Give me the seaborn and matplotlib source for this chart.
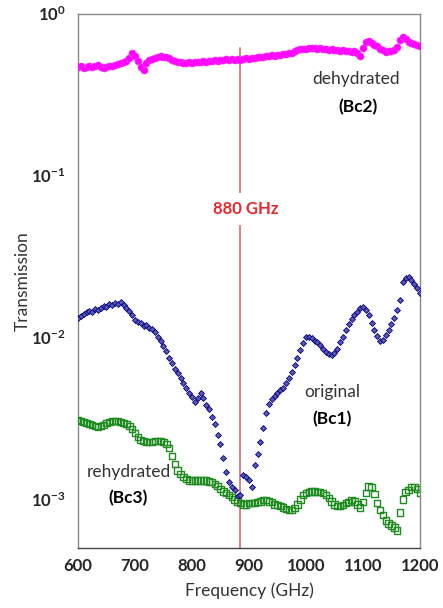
import numpy as np
import pandas as pd
import matplotlib
matplotlib.use('Agg')
import matplotlib.pyplot as plt
import seaborn as sns

# frequency sampling grid (GHz), 5 GHz steps
freq = np.arange(600, 1201, 5)

# transmission, one value per grid point
dehydrated = [
    0.467, 0.472, 0.462, 0.470, 0.474, 0.466, 0.472, 0.478, 0.465, 0.462,
    0.468, 0.471, 0.475, 0.482, 0.486, 0.493, 0.500, 0.512, 0.534, 0.574,
    0.545, 0.510, 0.468, 0.448, 0.492, 0.515, 0.521, 0.528, 0.537, 0.545,
    0.540, 0.536, 0.531, 0.520, 0.511, 0.505, 0.504, 0.498, 0.496, 0.500,
    0.494, 0.499, 0.503, 0.500, 0.507, 0.504, 0.510, 0.506, 0.514, 0.511,
    0.517, 0.514, 0.521, 0.518, 0.525, 0.520, 0.527, 0.519, 0.522, 0.528,
    0.526, 0.533, 0.530, 0.538, 0.542, 0.540, 0.547, 0.544, 0.551, 0.548,
    0.556, 0.552, 0.559, 0.563, 0.567, 0.574, 0.583, 0.594, 0.600, 0.607,
    0.604, 0.612, 0.616, 0.609, 0.606, 0.611, 0.602, 0.600, 0.597, 0.601,
    0.593, 0.595, 0.589, 0.592, 0.586, 0.588, 0.582, 0.585, 0.574, 0.548,
    0.612, 0.668, 0.675, 0.660, 0.643, 0.630, 0.606, 0.594, 0.582, 0.588,
    0.590, 0.592, 0.625, 0.690, 0.712, 0.694, 0.672, 0.660, 0.650, 0.641,
    0.626,
]

original = [
    0.0132, 0.0136, 0.0139, 0.0143, 0.0146, 0.0144, 0.0150, 0.0148, 0.0152, 0.0156,
    0.0154, 0.0160, 0.0158, 0.0163, 0.0161, 0.0165, 0.0159, 0.0152, 0.0146, 0.0138,
    0.0128, 0.0124, 0.0123, 0.0118, 0.0119, 0.0115, 0.0113, 0.0108, 0.0101, 0.0095,
    0.0089, 0.0082, 0.0075, 0.0069, 0.0064, 0.0060, 0.0056, 0.0052, 0.0049, 0.0045,
    0.0043, 0.0040, 0.0042, 0.0045, 0.0042, 0.0038, 0.0036, 0.0032, 0.0029, 0.0025,
    0.0022, 0.0018, 0.00147, 0.00128, 0.00119, 0.00114, 0.00105, 0.00106, 0.00141, 0.00138,
    0.00131, 0.00119, 0.00162, 0.00190, 0.00225, 0.00275, 0.00340, 0.00385, 0.00415, 0.00434,
    0.00455, 0.00473, 0.00490, 0.00522, 0.00560, 0.00611, 0.00675, 0.00746, 0.00836, 0.00923,
    0.01006, 0.01010, 0.00991, 0.00950, 0.00937, 0.00897, 0.00848, 0.00812, 0.00789, 0.00778,
    0.00801, 0.00848, 0.00937, 0.01006, 0.01111, 0.01210, 0.01299, 0.01376, 0.01436, 0.01520,
    0.01542, 0.01477, 0.01376, 0.01227, 0.01111, 0.01020, 0.00950, 0.00963, 0.01034, 0.01111,
    0.01210, 0.01318, 0.01477, 0.01703, 0.02202, 0.02330, 0.02363, 0.02265, 0.02139, 0.02020,
    0.01882,
]

rehydrated = [
    0.00308, 0.00304, 0.00300, 0.00296, 0.00291, 0.00287, 0.00283, 0.00279, 0.00283, 0.00287,
    0.00296, 0.00300, 0.00304, 0.00304, 0.00304, 0.00300, 0.00296, 0.00291, 0.00283, 0.00271,
    0.00256, 0.00242, 0.00232, 0.00229, 0.00225, 0.00225, 0.00225, 0.00229, 0.00229, 0.00229,
    0.00225, 0.00219, 0.00207, 0.00185, 0.00165, 0.00151, 0.00143, 0.00137, 0.00133, 0.00131,
    0.00131, 0.00131, 0.00131, 0.00131, 0.00131, 0.00131, 0.00129, 0.00128, 0.00124, 0.00121,
    0.00116, 0.00112, 0.00109, 0.00106, 0.00103, 0.00100, 0.00097, 0.00095, 0.00093, 0.00093,
    0.00095, 0.00095, 0.00095, 0.00096, 0.00097, 0.00099, 0.00099, 0.00097, 0.00096, 0.00093,
    0.00092, 0.00091, 0.00089, 0.00087, 0.00086, 0.00086, 0.00088, 0.00093, 0.00100, 0.00106,
    0.00109, 0.00111, 0.00112, 0.00112, 0.00111, 0.00111, 0.00109, 0.00106, 0.00102, 0.00097,
    0.00093, 0.00091, 0.00091, 0.00092, 0.00095, 0.00096, 0.00099, 0.00097, 0.00093, 0.00089,
    0.00096, 0.00109, 0.00120, 0.00119, 0.00108, 0.00095, 0.00086, 0.00080, 0.00074, 0.00071,
    0.00069, 0.00067, 0.00064, 0.00083, 0.00100, 0.00111, 0.00114, 0.00119, 0.00119, 0.00116,
    0.00109,
]

x_ticks = [600, 700, 800, 900, 1000, 1100, 1200]
y_ticks = [1e-3, 1e-2, 1e-1, 1]
y_tick_labels = [r'$\mathbf{10^{-3}}$', r'$\mathbf{10^{-2}}$', r'$\mathbf{10^{-1}}$', r'$\mathbf{10^{0}}$']
marker_freq = 884

df = pd.DataFrame({'freq': freq, 'dehydrated': dehydrated,
                   'original': original, 'rehydrated': rehydrated})

sns.set_style('white')
plt.rcParams['font.family'] = ['Lato', 'DejaVu Sans']
plt.rcParams['mathtext.fontset'] = 'custom'
plt.rcParams['mathtext.rm'] = 'Lato'
plt.rcParams['mathtext.bf'] = 'Lato:bold'

fig = plt.figure(figsize=(4.43, 6.08), dpi=100)
ax = fig.add_axes([0.176, 0.0987, 0.772, 0.879])

sns.scatterplot(data=df, x='freq', y='dehydrated', ax=ax, color='#ff00ff',
                s=26, marker='o', edgecolor='#ff33ff', linewidth=0.4, zorder=3)
sns.scatterplot(data=df, x='freq', y='rehydrated', ax=ax, marker='s', s=22,
                facecolor='none', edgecolor='#1f8c1f', linewidth=1.0, zorder=3)
sns.scatterplot(data=df, x='freq', y='original', ax=ax, marker='D', s=9,
                color='#5a5ab4', edgecolor='#000080', linewidth=0.6, zorder=4)

ax.plot([marker_freq, marker_freq], [5e-4, 0.61], color='#d9787c', lw=1.3, zorder=2)

ax.set_yscale('log')
ax.set_xlim(600, 1200)
ax.set_ylim(5e-4, 1)
ax.set_xticks(x_ticks)
ax.set_xticklabels([str(t) for t in x_ticks], fontweight='bold', fontsize=12)
ax.set_yticks(y_ticks)
ax.set_yticklabels(y_tick_labels, fontsize=12)
ax.yaxis.set_minor_locator(matplotlib.ticker.NullLocator())
ax.tick_params(axis='x', direction='in', length=5, width=1, color='#555555', pad=7)
ax.tick_params(axis='y', direction='out', length=4, width=1, color='#555555', pad=5)
for sp in ax.spines.values():
    sp.set_color('#888888')
    sp.set_linewidth(1)
ax.spines['bottom'].set_color('#444444')

ax.set_xlabel('Frequency (GHz)', fontsize=12.5, color='#333333', labelpad=6)
ax.set_ylabel('Transmission', fontsize=12.5, color='#333333', labelpad=0)

ax.text(0.491, 0.634, '880 GHz', transform=ax.transAxes, ha='center', va='center',
        color='#e8262a', fontsize=12, fontweight='bold',
        bbox=dict(facecolor='white', edgecolor='none', pad=6))
ax.text(0.813, 0.877, 'dehydrated', transform=ax.transAxes, ha='center', va='center',
        color='#333333', fontsize=12.5)
ax.text(0.819, 0.825, '(Bc2)', transform=ax.transAxes, ha='center', va='center',
        color='black', fontsize=12.5, fontweight='bold')
ax.text(0.743, 0.292, 'original', transform=ax.transAxes, ha='center', va='center',
        color='#333333', fontsize=12.5)
ax.text(0.743, 0.241, '(Bc1)', transform=ax.transAxes, ha='center', va='center',
        color='black', fontsize=12.5, fontweight='bold')
ax.text(0.149, 0.142, 'rehydrated', transform=ax.transAxes, ha='center', va='center',
        color='#333333', fontsize=12.5)
ax.text(0.146, 0.094, '(Bc3)', transform=ax.transAxes, ha='center', va='center',
        color='black', fontsize=12.5, fontweight='bold')

fig.savefig('out.png', dpi=100)
